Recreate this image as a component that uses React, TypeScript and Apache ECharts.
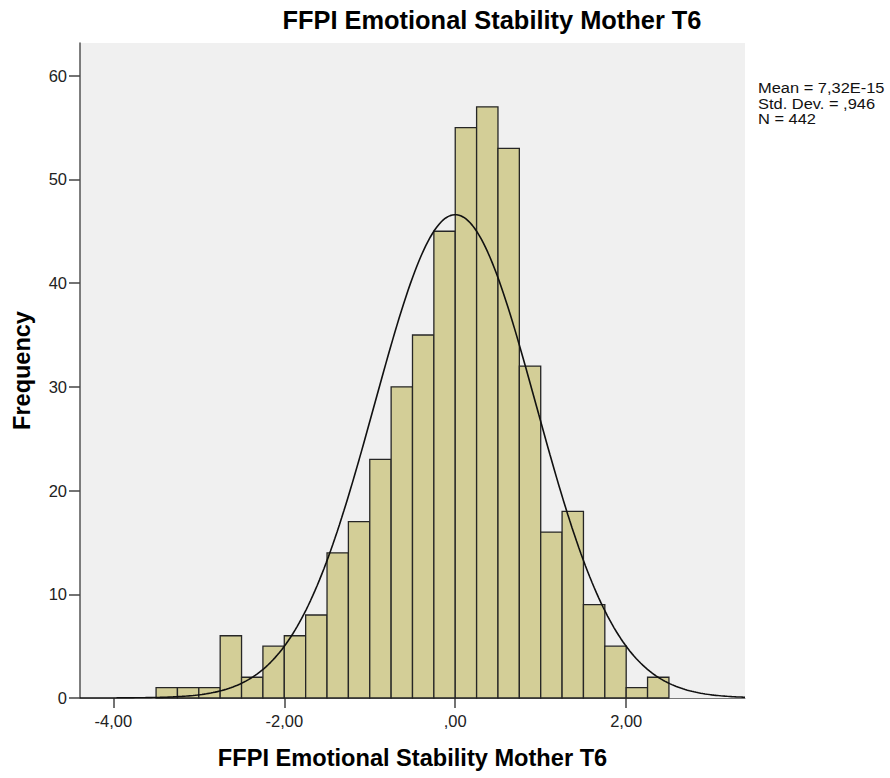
import React, { useEffect, useRef } from "react";
import * as echarts from "echarts";

// Histogram bins (left edges) and frequencies
const binStarts: number[] = [
  -3.5, -3.25, -3.0, -2.75, -2.5, -2.25, -2.0, -1.75, -1.5, -1.25, -1.0, -0.75,
  -0.5, -0.25, 0.0, 0.25, 0.5, 0.75, 1.0, 1.25, 1.5, 1.75, 2.0, 2.25,
];
const binWidth = 0.25;
const frequencies: number[] = [
  1, 1, 1, 6, 2, 5, 6, 8, 14, 17, 23, 30, 35, 45, 55, 57, 53, 32, 16, 18, 9, 5, 1, 2,
];

// Summary statistics shown on the chart
const meanValue = 0;
const stdDev = 0.946;
const nCount = 442;
const statLines: string[] = ["Mean = 7,32E-15", "Std. Dev. = ,946", "N = 442"];

// Axes
const xMin = -4.39;
const xMax = 3.39;
const yMin = 0;
const yMax = 63.15;
const xTickValues: number[] = [-4, -2, 0, 2];
const xTickLabels: string[] = ["-4,00", "-2,00", ",00", "2,00"];
const yTickValues: number[] = [0, 10, 20, 30, 40, 50, 60];

const titleText = "FFPI Emotional Stability Mother T6";
const xName = "FFPI Emotional Stability Mother T6";
const yName = "Frequency";

const FONT = "'Liberation Sans', Arial, sans-serif";

// Fitted normal curve (from mean, std. dev., N and bin width)
function normalCurve(): number[][] {
  const pts: number[][] = [];
  const steps = 300;
  for (let i = 0; i <= steps; i++) {
    const x = xMin + ((xMax - xMin) * i) / steps;
    const z = (x - meanValue) / stdDev;
    const y = (nCount * binWidth) / (stdDev * Math.sqrt(2 * Math.PI)) * Math.exp(-0.5 * z * z);
    pts.push([x, y]);
  }
  return pts;
}

export default function App() {
  const ref = useRef<HTMLDivElement>(null);

  useEffect(() => {
    document.body.style.margin = "0";
    if (!ref.current) return;
    const chart = echarts.init(ref.current, undefined, { renderer: "svg" });
    const barData = frequencies.map((c, i) => [binStarts[i], binStarts[i] + binWidth, c]);

    chart.setOption({
      animation: false,
      backgroundColor: "#ffffff",
      textStyle: { fontFamily: FONT },
      grid: {
        left: 80,
        right: 145,
        top: 43,
        bottom: 80,
        show: true,
        backgroundColor: "#f0f0f0",
        borderWidth: 0,
      },
      xAxis: {
        type: "value",
        min: xMin,
        max: xMax,
        name: xName,
        nameLocation: "middle",
        nameGap: 48,
        nameTextStyle: { fontFamily: FONT, fontSize: 23.6, fontWeight: "bold", color: "#000" },
        splitLine: { show: false },
        axisLine: { show: true, onZero: false, lineStyle: { color: "#777", width: 1 } },
        axisTick: {
          show: true,
          length: 10,
          customValues: xTickValues,
          lineStyle: { color: "#444", width: 1.5 },
        },
        axisLabel: {
          customValues: xTickValues,
          margin: 14,
          fontFamily: FONT,
          fontSize: 16.5,
          color: "#222",
          formatter: (v: number) => {
            const idx = xTickValues.findIndex((t) => Math.abs(t - v) < 1e-9);
            return idx >= 0 ? xTickLabels[idx] : "";
          },
        },
      },
      yAxis: {
        type: "value",
        min: yMin,
        max: yMax,
        name: yName,
        nameLocation: "middle",
        nameGap: 46,
        nameRotate: 90,
        nameTextStyle: { fontFamily: FONT, fontSize: 23.5, fontWeight: "bold", color: "#000" },
        splitLine: { show: false },
        axisLine: { show: true, onZero: false, lineStyle: { color: "#555", width: 1.5 } },
        axisTick: {
          show: true,
          length: 11,
          customValues: yTickValues,
          lineStyle: { color: "#444", width: 1.5 },
        },
        axisLabel: {
          customValues: yTickValues,
          margin: 13,
          fontFamily: FONT,
          fontSize: 16.5,
          color: "#222",
        },
      },
      graphic: [
        {
          type: "text",
          x: 492,
          y: 7,
          style: {
            text: titleText,
            fill: "#000",
            fontFamily: FONT,
            fontSize: 25.4,
            fontWeight: "bold",
            textAlign: "center",
            textVerticalAlign: "top",
          },
        },
        {
          type: "text",
          x: 758,
          y: 80,
          scaleX: 1.06,
          style: {
            text: statLines.join("\n"),
            fill: "#111",
            fontFamily: FONT,
            fontSize: 15.5,
            lineHeight: 15.5,
            textVerticalAlign: "top",
          },
        },
      ],
      series: [
        {
          type: "custom",
          data: barData,
          encode: { x: [0, 1], y: 2 },
          z: 2,
          renderItem: (params: any, api: any) => {
            const x0 = api.value(0);
            const x1 = api.value(1);
            const c = api.value(2);
            const p0 = api.coord([x0, c]);
            const p1 = api.coord([x1, 0]);
            return {
              type: "rect",
              shape: { x: p0[0], y: p0[1], width: p1[0] - p0[0], height: p1[1] - p0[1] },
              style: { fill: "#d3ce97", stroke: "#262626", lineWidth: 1.3 },
            };
          },
        },
        {
          type: "line",
          data: normalCurve(),
          showSymbol: false,
          smooth: false,
          z: 3,
          lineStyle: { color: "#111", width: 1.6 },
        },
      ],
    });

    return () => chart.dispose();
  }, []);

  return <div ref={ref} style={{ width: 890, height: 778 }} />;
}
